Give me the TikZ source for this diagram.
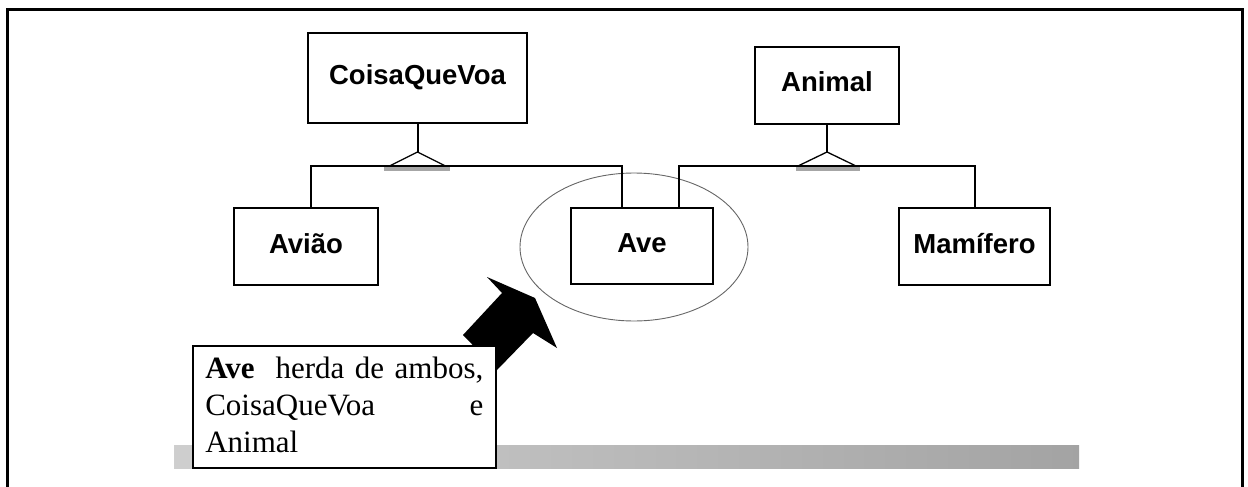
\documentclass[tikz,border=0pt]{standalone}
\usepackage{fontspec}
\setmainfont{Liberation Serif}
\newfontfamily\arialf{Liberation Sans}
\usetikzlibrary{shapes.geometric}
\begin{document}
\begin{tikzpicture}[x=1pt,y=-1pt,
  cls/.style={draw=black,line width=2pt,fill=white,inner sep=0pt,
    text height=20pt,text depth=7pt,
    font=\arialf\bfseries\fontsize{27.5}{32}\selectfont},
  link/.style={draw=black,line width=2pt},
  tri/.style={draw=black,line width=1.3pt,line join=miter},
  trishade/.style={fill=black!35},
]
\useasboundingbox (0,0) rectangle (1248,487);
% outer frame (open at the bottom)
\draw[line width=3pt] (7,487) -- (7,10) -- (1242,10) -- (1242,487);
% grey bar
\shade[left color=black!19,right color=black!36] (174,445) rectangle (1079,468);
% big arrow
\fill[black] (463,335) -- (502,293) -- (487,277) -- (535,298) -- (557,348) -- (533,333) -- (497,370) -- cycle;
% ellipse highlight
\node[ellipse,draw=black!60,line width=0.9pt,minimum width=228pt,minimum height=148pt,inner sep=0pt] (hl) at (634,247) {};
% classes
\node[cls,minimum width=219pt,minimum height=90pt] (cq) at (417.5,78) {CoisaQueVoa};
\node[cls,minimum width=144pt,minimum height=77pt] (an) at (827,85.5) {Animal};
\node[cls,minimum width=144pt,minimum height=77pt] (avi) at (306,246.5) {Avião};
\node[cls,minimum width=142pt,minimum height=76pt] (ave) at (642,246) {Ave};
\node[cls,minimum width=151pt,minimum height=77pt] (mam) at (974.5,246.5) {Mamífero};
% hierarchy coordinates
\coordinate (ap1) at (417.5,152);
\coordinate (ap2) at (827,152);
\coordinate (l1) at (311,166);
\coordinate (l2) at (622,166);
\coordinate (r1) at (679,166);
\coordinate (r2) at (974.5,166);
% left hierarchy
\fill[trishade] (384,167) rectangle (450,171);
\draw[link] (cq.south) -- (ap1);
\draw[link] ([xshift=5pt]avi.north) -- (l1) -- (l2) -- ([xshift=-20pt]ave.north);
\draw[tri] ([xshift=-28pt,yshift=-14pt]ap1) -- (ap1) -- ([xshift=28pt,yshift=-14pt]ap1);
% right hierarchy
\fill[trishade] (796,167) rectangle (860,171);
\draw[link] (an.south) -- (ap2);
\draw[link] ([xshift=37pt]ave.north) -- (r1) -- (r2) -- (mam.north);
\draw[tri] ([xshift=-29pt,yshift=-14pt]ap2) -- (ap2) -- ([xshift=29pt,yshift=-14pt]ap2);
% note box
\node[draw=black,line width=1.6pt,fill=white,anchor=north west,inner xsep=12.5pt,inner ysep=11pt] (nota) at (192,345)
  {\begin{minipage}[t][100pt][t]{278pt}\fontsize{31}{37}\selectfont
   \textbf{Ave}\hspace{0pt plus 2fill}herda\hfill de\hfill ambos,\\
   CoisaQueVoa\hfill e\\
   Animal\end{minipage}};
\end{tikzpicture}
\end{document}
